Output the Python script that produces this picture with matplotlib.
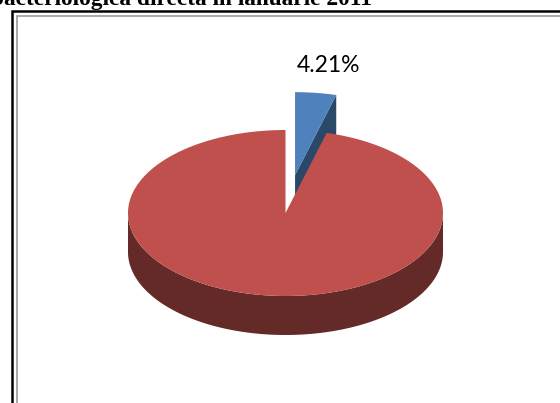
import numpy as np
import matplotlib.pyplot as plt
from matplotlib.patches import Polygon

# date
values = [4.21, 95.79]
labels = ["4.21%", ""]
top_colors = ["#4F81BD", "#C0504D"]
side_colors = ["#2A4868", "#632A28"]
explode = [0.46, 0.0]
title = "bacteriologica directa in ianuarie 2011"

# layout (pixeli)
W, H = 560, 403
cx, cy = 285.5, 213.0
rx, ry = 157.5, 83.0
depth = 39.0

fig = plt.figure(figsize=(W / 100, H / 100), dpi=100)
ax = fig.add_axes([0, 0, 1, 1])
ax.set_xlim(0, W)
ax.set_ylim(H, 0)
ax.axis("off")

# chenar
ax.plot([12, 12, W + 5], [H + 5, 11, 11], color="black", lw=1.8, solid_joinstyle="miter")
ax.plot([17, 17, W + 5], [H + 5, 16, 16], color="#9a9a9a", lw=1.2, solid_joinstyle="miter")

# titlu (taiat sus)
ax.text(372, 5, title, ha="right", va="baseline", fontsize=16.8,
        family="Liberation Serif", fontweight="bold")


def pt(ang, ox, oy, dz=0.0):
    a = np.radians(ang)
    return cx + ox + rx * np.cos(a), cy - oy - ry * np.sin(a) + dz


# unghiuri: start la 90 grade, in sensul acelor de ceasornic
fr = np.array(values) / sum(values)
ends = 90 - np.cumsum(fr) * 360
starts = np.concatenate([[90], ends[:-1]])

for i in range(len(values)):
    a0, a1 = starts[i], ends[i]
    mid = np.radians((a0 + a1) / 2)
    ox = explode[i] * rx * np.cos(mid)
    oy = explode[i] * ry * np.sin(mid)
    c_top = (cx + ox, cy - oy)
    c_bot = (cx + ox, cy - oy + depth)

    # fata laterala radiala (marginea de la a1)
    p1 = pt(a1, ox, oy)
    p1b = pt(a1, ox, oy, depth)
    if np.cos(np.radians(a1)) > 0 and np.sin(np.radians(a1)) > 0:
        ax.add_patch(Polygon([c_top, p1, p1b, c_bot], closed=True,
                             fc=side_colors[i], ec="none"))

    # fata laterala exterioara (partea din fata)
    angs = np.linspace(a0, a1, 400)
    front = angs[np.sin(np.radians(angs)) <= 0]
    if len(front) > 1:
        top_edge = [pt(a, ox, oy) for a in front]
        bot_edge = [pt(a, ox, oy, depth) for a in front[::-1]]
        ax.add_patch(Polygon(top_edge + bot_edge, closed=True,
                             fc=side_colors[i], ec="none"))

    # fata de sus
    arc = [pt(a, ox, oy) for a in angs]
    ax.add_patch(Polygon([c_top] + arc, closed=True, fc=top_colors[i], ec="none"))

    if labels[i]:
        ax.annotate(labels[i], xy=pt(np.degrees(mid), ox, oy),
                    xytext=(13, 27), textcoords="offset pixels",
                    ha="center", va="center", fontsize=16.5, family="Lato",
                    color="black")

fig.savefig("out.png", dpi=100)
